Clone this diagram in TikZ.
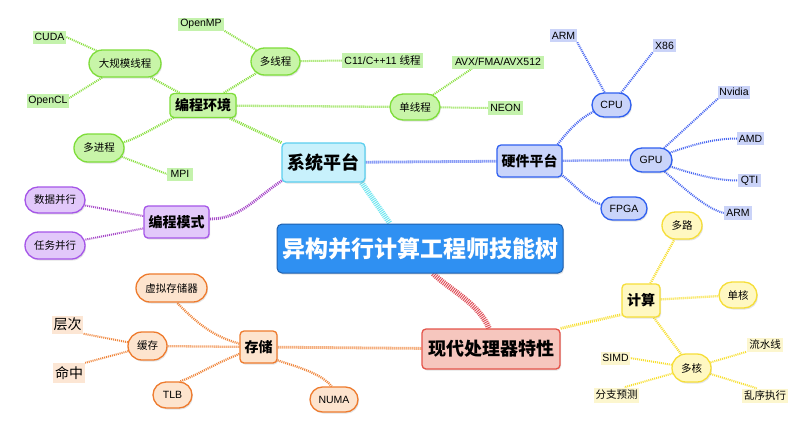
\documentclass[tikz,border=0pt]{standalone}
\usepackage{fontspec}
\setmainfont{Liberation Sans}
\newfontfamily\cjk{Noto Sans CJK SC}
\usetikzlibrary{shapes.misc,shadows,backgrounds}
\newcommand{\zh}[1]{{\cjk #1}}
\definecolor{mainFill}{HTML}{2F90F2}\definecolor{mainDraw}{HTML}{1E5FAE}
\definecolor{cyanFill}{HTML}{C8F1FC}\definecolor{cyanDraw}{HTML}{5CCFEF}\definecolor{cyanLine}{HTML}{6EE6F0}
\definecolor{blueFill}{HTML}{C9D4FA}\definecolor{blueDraw}{HTML}{3060F0}\definecolor{blueLine}{HTML}{4A68F2}\definecolor{blueLeaf}{HTML}{CAD3F8}
\definecolor{greenFill}{HTML}{C8F5A8}\definecolor{greenDraw}{HTML}{7EDD3A}\definecolor{greenLine}{HTML}{8AE040}\definecolor{greenLeaf}{HTML}{C4F2AC}
\definecolor{purpleFill}{HTML}{E2C8FA}\definecolor{purpleDraw}{HTML}{A555E8}\definecolor{purpleLine}{HTML}{A648C8}
\definecolor{redFill}{HTML}{F6C6BE}\definecolor{redDraw}{HTML}{E4544A}\definecolor{redLine}{HTML}{E0505A}
\definecolor{orangeFill}{HTML}{FDE4CE}\definecolor{orangeDraw}{HTML}{EE7B2E}\definecolor{orangeLine}{HTML}{F0853A}\definecolor{orangeLeaf}{HTML}{FCE6D4}
\definecolor{yellowFill}{HTML}{FFF8C2}\definecolor{yellowDraw}{HTML}{F6DE38}\definecolor{yellowLine}{HTML}{F8E030}\definecolor{yellowLeaf}{HTML}{FCF6CE}
\begin{document}
\begin{tikzpicture}[x=1pt,y=-1pt,
  base/.style={inner sep=0pt, align=center, text=black},
  shad/.style={drop shadow={opacity=0.22,shadow xshift=1pt,shadow yshift=-1.5pt}},
  mainbox/.style={base, shad, rounded corners=5pt, draw=mainDraw, line width=1pt, fill=mainFill, text=white,
    font=\cjk\bfseries\fontsize{23}{26}\selectfont},
  lvone/.style={base, shad, rounded corners=4pt, line width=1.3pt, font=\cjk\bfseries\fontsize{14}{16}\selectfont},
  pill/.style={base, shad, rounded rectangle, line width=1.3pt, font=\fontsize{10.5}{12}\selectfont},
  leaf/.style={base, rectangle, font=\fontsize{10.5}{12}\selectfont},
  trunk/.style={line width=5.5pt, dash pattern=on 1pt off 1pt},
  lone/.style={line width=2.8pt, dash pattern=on 1pt off 1pt},
  ltwo/.style={line width=2.3pt, dash pattern=on 1pt off 1pt},
  lthree/.style={line width=2pt, dash pattern=on 1pt off 1pt}]
\useasboundingbox (0,0) rectangle (795,421);

% main and level one
\node[mainbox, minimum width=286pt, minimum height=49pt] (main) at (420,248.5) {异构并行计算工程师技能树};
\node[lvone, draw=cyanDraw, fill=cyanFill, minimum width=83pt, minimum height=39pt, font=\cjk\bfseries\fontsize{18}{20}\selectfont] (sys) at (323.5,162.5) {系统平台};
\node[lvone, draw=blueDraw, fill=blueFill, minimum width=65pt, minimum height=32pt] (hw) at (529.5,161) {硬件平台};
\node[lvone, draw=greenDraw, fill=greenFill, minimum width=66pt, minimum height=24pt] (env) at (203,105.5) {编程环境};
\node[lvone, draw=purpleDraw, fill=purpleFill, minimum width=65pt, minimum height=32pt] (mode) at (176.5,222) {编程模式};
\node[lvone, draw=redDraw, fill=redFill, minimum width=138pt, minimum height=40pt, font=\cjk\bfseries\fontsize{18}{20}\selectfont] (proc) at (491,349) {现代处理器特性};
\node[lvone, draw=yellowDraw, fill=yellowFill, minimum width=38pt, minimum height=33pt] (calc) at (641,300.5) {计算};
\node[lvone, draw=orangeDraw, fill=orangeFill, minimum width=37pt, minimum height=32pt] (store) at (258.5,347) {存储};

% pills
\node[pill, draw=greenDraw, fill=greenFill, minimum width=72pt, minimum height=27pt] (big) at (125,63.5) {\zh{大规模线程}};
\node[pill, draw=greenDraw, fill=greenFill, minimum width=49pt, minimum height=27pt] (mt) at (275.5,61.5) {\zh{多线程}};
\node[pill, draw=greenDraw, fill=greenFill, minimum width=50pt, minimum height=28pt] (mp) at (99,148) {\zh{多进程}};
\node[pill, draw=greenDraw, fill=greenFill, minimum width=50pt, minimum height=26pt] (st) at (415,107) {\zh{单线程}};
\node[pill, draw=blueDraw, fill=blueFill, minimum width=39pt, minimum height=24pt] (cpu) at (611.5,105) {CPU};
\node[pill, draw=blueDraw, fill=blueFill, minimum width=42pt, minimum height=24pt] (gpu) at (651,160) {GPU};
\node[pill, draw=blueDraw, fill=blueFill, minimum width=46pt, minimum height=23pt] (fpga) at (624,208.5) {FPGA};
\node[pill, draw=purpleDraw, fill=purpleFill, minimum width=60pt, minimum height=26pt] (data) at (55,200) {\zh{数据并行}};
\node[pill, draw=purpleDraw, fill=purpleFill, minimum width=60pt, minimum height=27pt] (task) at (55,245.5) {\zh{任务并行}};
\node[pill, draw=orangeDraw, fill=orangeFill, minimum width=71pt, minimum height=28pt] (vm) at (171.5,288) {\zh{虚拟存储器}};
\node[pill, draw=orangeDraw, fill=orangeFill, minimum width=39pt, minimum height=28pt] (cache) at (147.5,346) {\zh{缓存}};
\node[pill, draw=orangeDraw, fill=orangeFill, minimum width=39pt, minimum height=26pt] (tlb) at (172.5,395) {TLB};
\node[pill, draw=orangeDraw, fill=orangeFill, minimum width=48pt, minimum height=25pt] (numa) at (334,399.5) {NUMA};
\node[pill, draw=yellowDraw, fill=yellowFill, minimum width=40pt, minimum height=27pt] (duolu) at (682,225.5) {\zh{多路}};
\node[pill, draw=yellowDraw, fill=yellowFill, minimum width=38pt, minimum height=26pt] (danhe) at (738,295) {\zh{单核}};
\node[pill, draw=yellowDraw, fill=yellowFill, minimum width=39pt, minimum height=28pt] (duohe) at (691.5,368) {\zh{多核}};

% leaves
\node[leaf, fill=greenLeaf, minimum width=33pt, minimum height=13pt] (cuda) at (49.5,37) {CUDA};
\node[leaf, fill=greenLeaf, minimum width=42pt, minimum height=14pt] (opencl) at (48,101) {OpenCL};
\node[leaf, fill=greenLeaf, minimum width=46pt, minimum height=13pt] (openmp) at (201,24) {OpenMP};
\node[leaf, fill=greenLeaf, minimum width=26pt, minimum height=13pt] (mpi) at (180,174) {MPI};
\node[leaf, fill=greenLeaf, minimum width=81pt, minimum height=15pt] (c11) at (382.5,60.5) {C11/C++11 \zh{线程}};
\node[leaf, fill=greenLeaf, minimum width=92pt, minimum height=13pt] (avx) at (498,62) {AVX/FMA/AVX512};
\node[leaf, fill=greenLeaf, minimum width=35pt, minimum height=14pt] (neon) at (505.5,108) {NEON};
\node[leaf, fill=blueLeaf, minimum width=27pt, minimum height=13pt] (arma) at (563.5,35.5) {ARM};
\node[leaf, fill=blueLeaf, minimum width=23pt, minimum height=13pt] (xe) at (664.5,45.5) {X86};
\node[leaf, fill=blueLeaf, minimum width=32pt, minimum height=13pt] (nv) at (734,92) {Nvidia};
\node[leaf, fill=blueLeaf, minimum width=27pt, minimum height=13pt] (amd) at (750.5,138.5) {AMD};
\node[leaf, fill=blueLeaf, minimum width=23pt, minimum height=13pt] (qti) at (749.5,180.5) {QTI};
\node[leaf, fill=blueLeaf, minimum width=28pt, minimum height=14pt] (armb) at (738,213) {ARM};
\node[leaf, fill=orangeLeaf, minimum width=31pt, minimum height=18pt, font=\cjk\fontsize{14}{16}\selectfont] (cengci) at (67.5,324.5) {层次};
\node[leaf, fill=orangeLeaf, minimum width=32pt, minimum height=20pt, font=\cjk\fontsize{14}{16}\selectfont] (mingzh) at (69,373) {命中};
\node[leaf, fill=yellowLeaf, minimum width=29pt, minimum height=13pt] (simd) at (615.5,358) {SIMD};
\node[leaf, fill=yellowLeaf, minimum width=36pt, minimum height=14pt] (lsx) at (765,344.5) {\zh{流水线}};
\node[leaf, fill=yellowLeaf, minimum width=45pt, minimum height=15pt] (fzyc) at (616.5,395) {\zh{分支预测}};
\node[leaf, fill=yellowLeaf, minimum width=46pt, minimum height=14pt] (lxzx) at (765,395.5) {\zh{乱序执行}};

\begin{scope}[on background layer]
\fill[white] (0,0) rectangle (795,421);
% trunks
\draw[trunk, cyanLine] ([xshift=-4pt]sys.south east) -- ([xshift=-30pt]main.north);
\draw[trunk, redLine] ([xshift=13pt]main.south) .. controls +(15,15) and +(-10,-25) .. ([xshift=-2pt]proc.north);
% level one
\draw[lone, blueLine] (sys) -- (hw);
\draw[lone, greenLine] (sys) -- (env);
\draw[lone, purpleLine] ([shift={(2pt,3pt)}]sys.south west) .. controls +(-30,20) and +(30,0) .. ([yshift=3pt]mode.east);
\draw[lone, orangeLine] (proc) -- (store);
\draw[lone, yellowLine] (proc.north east) -- ([yshift=3pt]calc.south west);
% environment
\draw[ltwo, greenLine] (env) -- (big);
\draw[ltwo, greenLine] (env) -- (mt);
\draw[ltwo, greenLine] (env) -- (st);
\draw[ltwo, greenLine] (env.center) .. controls +(-40,12) and +(40,-4) .. (mp.center);
\draw[lthree, greenLine] (big) -- (cuda.east);
\draw[lthree, greenLine] (big) -- ([yshift=3pt]opencl.east);
\draw[lthree, greenLine] (mt) -- (openmp.south east);
\draw[lthree, greenLine] (mt) -- (c11.west);
\draw[lthree, greenLine] (mp) -- (mpi.west);
\draw[lthree, greenLine] (st) -- ([xshift=20pt]avx.south west);
\draw[lthree, greenLine] (st) -- (neon.west);
% hardware
\draw[ltwo, blueLine] ([xshift=-5pt]hw.north east) .. controls +(12,-15) and +(-15,8) .. (cpu.200);
\draw[ltwo, blueLine] (hw) -- (gpu);
\draw[ltwo, blueLine] ([yshift=2pt]hw.south east) .. controls +(15,12) and +(-15,-5) .. (fpga.170);
\draw[lthree, blueLine] (cpu) -- (arma.south east);
\draw[lthree, blueLine] (cpu) -- (xe.south west);
\draw[lthree, blueLine] (gpu) -- (nv.south west);
\draw[lthree, blueLine] (gpu.center) .. controls +(35,-14) and +(-25,0) .. (amd.west);
\draw[lthree, blueLine] (gpu.center) .. controls +(35,12) and +(-25,0) .. (qti.west);
\draw[lthree, blueLine] (gpu.center) .. controls +(30,25) and +(-20,-5) .. (armb.west);
% mode
\draw[lthree, purpleLine] (mode) -- (data);
\draw[lthree, purpleLine] (mode) -- (task);
% storage
\draw[ltwo, orangeLine] (store.170) .. controls +(-30,-8) and +(15,15) .. (vm.-70);
\draw[ltwo, orangeLine] (store) -- (cache);
\draw[ltwo, orangeLine] (store.200) .. controls +(-25,10) and +(20,-8) .. (tlb.60);
\draw[ltwo, orangeLine] (store.-35) .. controls +(25,8) and +(-10,-12) .. (numa.100);
\draw[lthree, orangeLine] (cache) -- (cengci.south east);
\draw[lthree, orangeLine] (cache) -- (mingzh.north east);
% compute
\draw[ltwo, yellowLine] (calc) -- (duolu);
\draw[ltwo, yellowLine] (calc) -- (danhe);
\draw[ltwo, yellowLine] (calc) -- (duohe);
\draw[lthree, yellowLine] (duohe) -- (simd.east);
\draw[lthree, yellowLine] (duohe) -- ([xshift=-15pt]fzyc.north east);
\draw[lthree, yellowLine] (duohe) -- (lsx.south west);
\draw[lthree, yellowLine] (duohe) -- ([xshift=15pt]lxzx.north west);
\end{scope}
\end{tikzpicture}
\end{document}
